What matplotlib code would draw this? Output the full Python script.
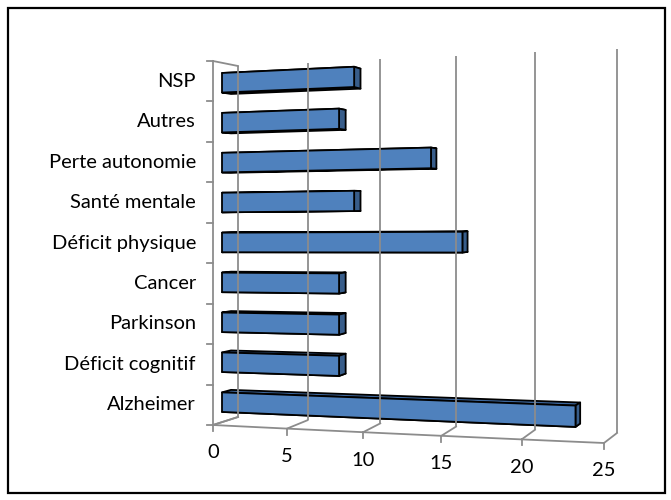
import numpy as np
import matplotlib
matplotlib.use('Agg')
import matplotlib.pyplot as plt
from matplotlib.patches import Polygon, Rectangle

# data (bottom to top)
categories = ['Alzheimer', 'Déficit cognitif', 'Parkinson', 'Cancer', 'Déficit physique',
              'Santé mentale', 'Perte autonomie', 'Autres', 'NSP']
values = [23, 8, 8, 8, 16, 9, 14, 8, 9]
ticks = [0, 5, 10, 15, 20, 25]

plt.rcParams['font.family'] = ['Lato', 'DejaVu Sans']

W, H = 671, 500
fig = plt.figure(figsize=(W / 100, H / 100), dpi=100)
ax = fig.add_axes([0, 0, 1, 1])
ax.set_xlim(0, W)
ax.set_ylim(H, 0)
ax.axis('off')

ncat = len(categories)


#perspective mapping: v = value, c = category coord (0 floor .. ncat top), d = depth (0 front .. 1 back)
def proj(v, c, d):
    xf = 213 + 14.6 * v + 0.0416 * v * v
    xb = 238 + 13.6 * v + 0.0624 * v * v
    x = xf + (xb - xf) * d
    ybot = (425 + 0.72 * v) * (1 - d) + (417 + 0.64 * v) * d
    ytop = (61 - 0.76 * v) * (1 - d) + (66 - 0.68 * v) * d
    y = ybot - (ybot - ytop) * c / ncat
    return x, y


grid = '#8c8c8c'
glw = 1.3

#back wall gridlines
for k in ticks:
    x0, y0 = proj(k, 0, 1)
    x1, y1 = proj(k, ncat, 1)
    ax.plot([x0, x1], [y0, y1], color=grid, lw=glw, solid_capstyle='butt')

#floor lines and front ticks
for k in ticks:
    x0, y0 = proj(k, 0, 0)
    x1, y1 = proj(k, 0, 1)
    ax.plot([x0, x1], [y0, y1], color=grid, lw=glw)
    ax.plot([x0, x0], [y0, y0 + 6], color=grid, lw=glw)
    ax.text(x0, y0 + 28, str(k), ha='center', va='center', fontsize=14.5, color='black')
vv = np.linspace(0, ticks[-1], 60)
fx, fy = zip(*[proj(v, 0, 0) for v in vv])
ax.plot(fx, fy, color=grid, lw=glw)

#left wall
lx0, ly0 = proj(0, 0, 0)
lx1, ly1 = proj(0, ncat, 0)
ax.plot([lx0, lx1], [ly0, ly1], color=grid, lw=glw)
for c in [0, ncat]:
    a = proj(0, c, 0)
    b = proj(0, c, 1)
    ax.plot([a[0], b[0]], [a[1], b[1]], color=grid, lw=glw)
for c in range(ncat + 1):
    x, y = proj(0, c, 0)
    ax.plot([x - 6, x], [y, y], color=grid, lw=glw)

#bars
d0, d1 = 0.36, 0.72
hh = 0.245
front_col = '#4f81bd'
top_col = '#3c659a'
side_col = '#385d8a'
for i, (name, v) in enumerate(zip(categories, values)):
    lo, hi = i + 0.5 - hh, i + 0.5 + hh
    top = [proj(0, hi, d0), proj(v, hi, d0), proj(v, hi, d1), proj(0, hi, d1)]
    bot = [proj(0, lo, d0), proj(v, lo, d0), proj(v, lo, d1), proj(0, lo, d1)]
    side = [proj(v, lo, d0), proj(v, hi, d0), proj(v, hi, d1), proj(v, lo, d1)]
    front = [proj(0, lo, d0), proj(v, lo, d0), proj(v, hi, d0), proj(0, hi, d0)]
    for pts, col in [(top, top_col), (bot, top_col), (side, side_col), (front, front_col)]:
        ax.add_patch(Polygon(pts, closed=True, facecolor=col, edgecolor='black',
                             lw=1.3, joinstyle='round'))
    tx, ty = proj(0, i + 0.5, 0)
    ax.text(tx - 17, ty, name, ha='right', va='center', fontsize=14.5, color='black')

#outer frame
fig.patches.append(Rectangle((8 / W, 7 / H), 657 / W, 485 / H, transform=fig.transFigure,
                             fill=False, edgecolor='black', lw=1.6))

fig.savefig('out.png', dpi=100)
